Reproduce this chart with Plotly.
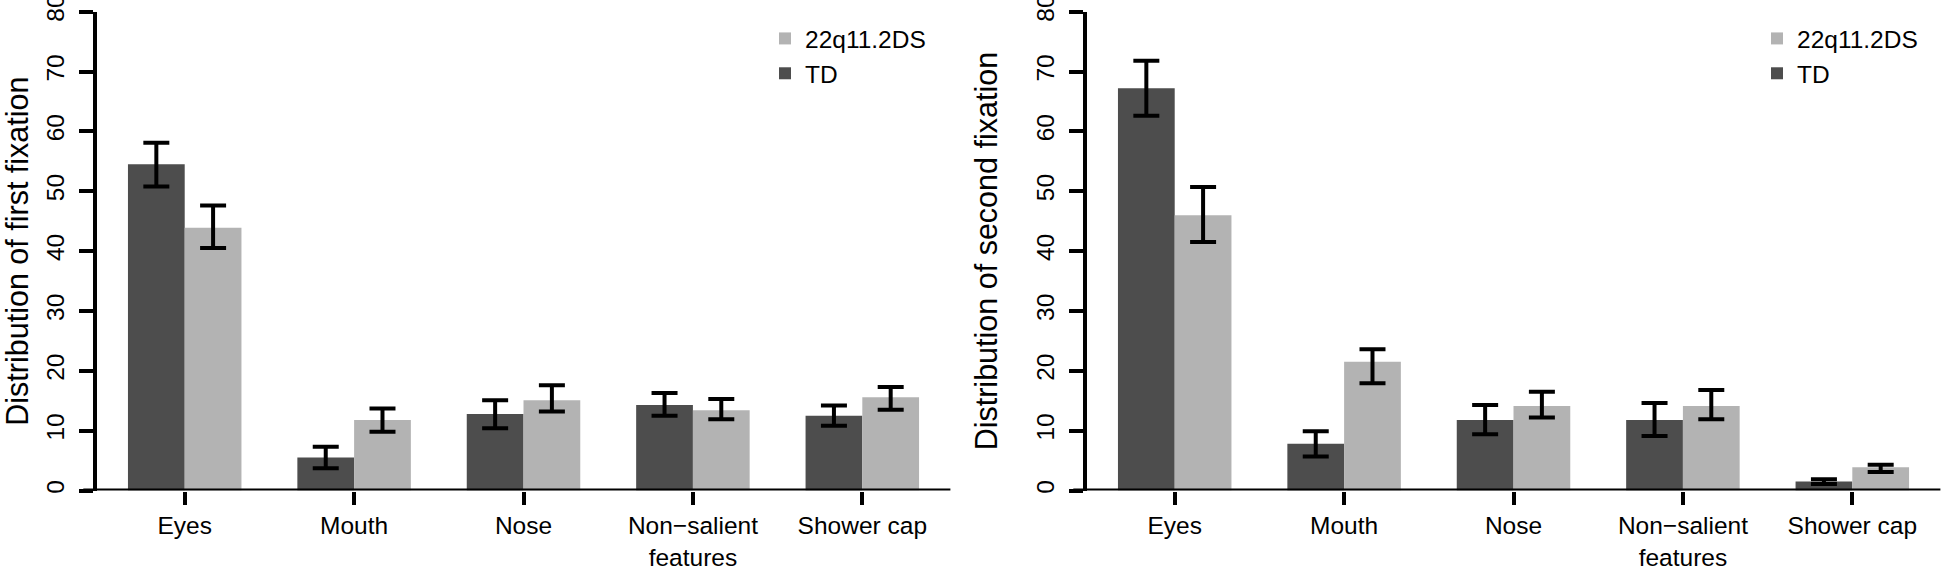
import plotly.graph_objects as go

# categories and values
categories = ["Eyes", "Mouth", "Nose", "Non\u2212salient<br>features", "Shower cap"]

# first fixation (left panel)
first_td = [54.5, 5.5, 12.8, 14.3, 12.5]
first_td_hi = [58.1, 7.3, 15.1, 16.3, 14.2]
first_td_lo = [50.8, 3.7, 10.4, 12.5, 10.8]
first_22q = [43.9, 11.8, 15.1, 13.4, 15.6]
first_22q_hi = [47.6, 13.7, 17.6, 15.3, 17.3]
first_22q_lo = [40.5, 9.8, 13.2, 11.9, 13.5]

# second fixation (right panel)
second_td = [67.2, 7.8, 11.8, 11.8, 1.5]
second_td_hi = [71.8, 9.9, 14.3, 14.6, 1.9]
second_td_lo = [62.6, 5.7, 9.4, 9.1, 1.1]
second_22q = [46.0, 21.5, 14.1, 14.1, 3.9]
second_22q_hi = [50.7, 23.6, 16.5, 16.8, 4.3]
second_22q_lo = [41.5, 17.9, 12.2, 11.9, 3.1]

TD_COLOR = "#4d4d4d"
DS_COLOR = "#b3b3b3"
FONT = "Liberation Sans, Arial, Helvetica, sans-serif"
W, H = 1944, 566
TICK_SIZE = 24.5


def err(vals, hi, lo):
    return dict(
        type="data", symmetric=False,
        array=[h - v for v, h in zip(vals, hi)],
        arrayminus=[v - l for v, l in zip(vals, lo)],
        color="black", thickness=4, width=13,
    )


fig = go.Figure()

panels = [
    ("x", "y", "legend", first_td, first_td_hi, first_td_lo, first_22q, first_22q_hi, first_22q_lo),
    ("x2", "y2", "legend2", second_td, second_td_hi, second_td_lo, second_22q, second_22q_hi, second_22q_lo),
]
for xa, ya, lg, td, td_hi, td_lo, ds, ds_hi, ds_lo in panels:
    fig.add_trace(go.Bar(x=categories, y=td, name="TD", marker=dict(color=TD_COLOR, line=dict(width=0)),
                         error_y=err(td, td_hi, td_lo), xaxis=xa, yaxis=ya, legend=lg))
    fig.add_trace(go.Bar(x=categories, y=ds, name="22q11.2DS", marker=dict(color=DS_COLOR, line=dict(width=0)),
                         error_y=err(ds, ds_hi, ds_lo), xaxis=xa, yaxis=ya, legend=lg))

y_dom = [(H - 490.5) / H, (H - 11.7) / H]
left_dom = [97.3 / W, 950.4 / W]
right_dom = [1087.3 / W, 1940.4 / W]
x_range = [-0.516, 4.52]

xcommon = dict(range=x_range, showline=False, showgrid=False, zeroline=False, automargin=False,
               ticks="outside", ticklen=13, tickwidth=4, tickcolor="black",
               ticklabeloverflow="allow",
               tickfont=dict(size=TICK_SIZE, color="black", family=FONT), fixedrange=True)
ycommon = dict(range=[0, 80], tickvals=list(range(0, 81, 10)), showline=True, linewidth=4,
               linecolor="black", showgrid=False, zeroline=False, automargin=False,
               ticks="outside", ticklen=14, tickwidth=4, tickcolor="black", tickangle=-90,
               ticklabelstandoff=6, ticklabeloverflow="allow",
               tickfont=dict(size=TICK_SIZE, color="black", family=FONT), domain=y_dom)

fig.update_layout(
    width=W, height=H,
    margin=dict(l=0, r=0, t=0, b=0, autoexpand=False),
    paper_bgcolor="white", plot_bgcolor="white",
    font=dict(family=FONT, color="black"),
    barmode="group", bargap=0.33, bargroupgap=0,
    xaxis=dict(domain=left_dom, anchor="y", **xcommon),
    xaxis2=dict(domain=right_dom, anchor="y2", **xcommon),
    yaxis=dict(anchor="x", title=dict(text="Distribution of first fixation", font=dict(size=30.5), standoff=24), **ycommon),
    yaxis2=dict(anchor="x2", title=dict(text="Distribution of second fixation", font=dict(size=30.5), standoff=26), **ycommon),
    legend=dict(x=765 / W, y=1 - 16 / H, xanchor="left", yanchor="top", traceorder="reversed",
                font=dict(size=TICK_SIZE), bgcolor="rgba(0,0,0,0)", itemclick=False),
    legend2=dict(x=1757 / W, y=1 - 16 / H, xanchor="left", yanchor="top", traceorder="reversed",
                 font=dict(size=TICK_SIZE), bgcolor="rgba(0,0,0,0)", itemclick=False),
    showlegend=True,
)

# R-style baseline: runs from the end of the y ticks across the panel
for dom, ya in [(left_dom, "y"), (right_dom, "y2")]:
    fig.add_shape(type="line", xref="paper", yref=ya,
                  x0=dom[0] - 14 / W, x1=dom[1], y0=0, y1=0,
                  line=dict(color="black", width=4))

# drop the browser's default body margin so the figure sits flush in the window
fig.write_html("out.html", config={"displayModeBar": False},
               post_script="document.body.style.margin='0';document.body.style.overflow='hidden';")
